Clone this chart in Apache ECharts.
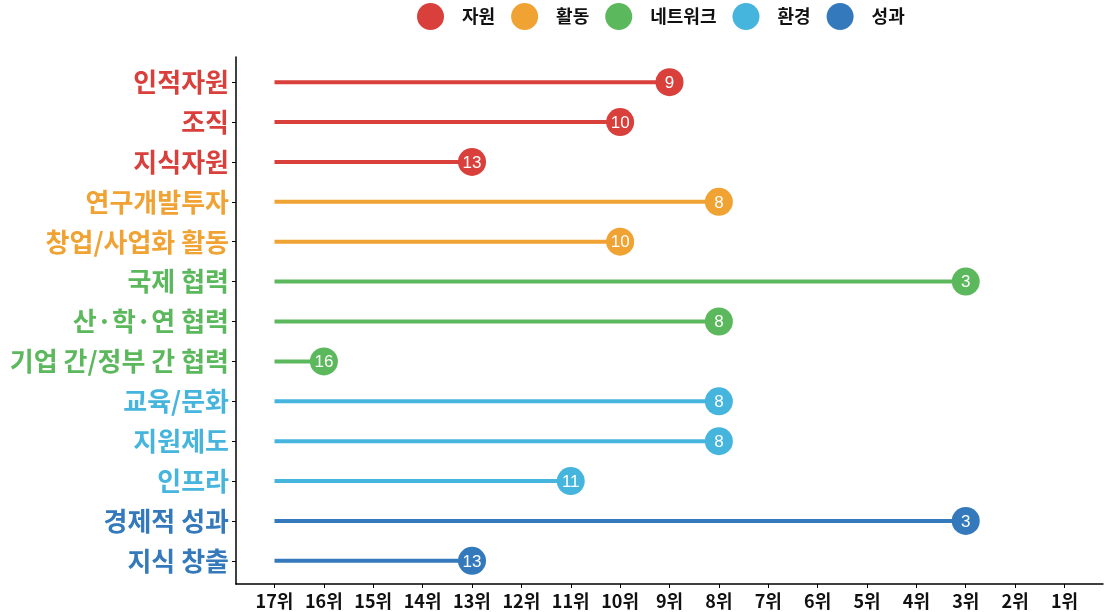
<!DOCTYPE html>
<html><head><meta charset="utf-8">
<script src="https://cdn.jsdelivr.net/npm/echarts@6/dist/echarts.min.js"></script>
<style>html,body{margin:0;padding:0;background:#fff}#c{width:1104px;height:612px}</style>
</head><body><div id="c"></div>
<script>
const categories = ['인적자원','조직','지식자원','연구개발투자','창업/사업화 활동','국제 협력','산·학·연 협력','기업 간/정부 간 협력','교육/문화','지원제도','인프라','경제적 성과','지식 창출'];
const groupOf = ['자원','자원','자원','활동','활동','네트워크','네트워크','네트워크','환경','환경','환경','성과','성과'];
const ranks = [9,10,13,8,10,3,8,16,8,8,11,3,13];
const groups = ['자원','활동','네트워크','환경','성과'];
const groupColors = ['#d93f3b','#f0a232','#5cb85c','#46b5dd','#3479bb'];
const rankTicks = [17,16,15,14,13,12,11,10,9,8,7,6,5,4,3,2,1];
const baseRank = 17;

const font = '"Noto Sans CJK KR", "Noto Sans", sans-serif';

function renderItem(params, api) {
  const v = api.value(0), y = api.value(1);
  const s = api.coord([baseRank, y]);
  const e = api.coord([v, y]);
  const color = api.visual('color');
  return {
    type: 'group',
    children: [
      {type: 'line', shape: {x1: s[0], y1: s[1], x2: e[0], y2: e[1]}, style: {stroke: color, lineWidth: 4}},
      {type: 'circle', shape: {cx: e[0], cy: e[1], r: 14}, style: {fill: color}},
      {type: 'text', x: e[0], y: e[1] + 1, style: {text: String(v), fill: '#fff', font: '17px "Liberation Sans", Arial, sans-serif', align: 'center', verticalAlign: 'middle'}}
    ]
  };
}

const series = groups.map((g, gi) => ({
  name: g,
  type: 'custom',
  renderItem: renderItem,
  itemStyle: {color: groupColors[gi]},
  encode: {x: 0, y: 1},
  data: ranks.map((r, i) => groupOf[i] === g ? [r, i] : null).filter(d => d)
}));

const chart = echarts.init(document.getElementById('c'));
chart.setOption({
  animation: false,
  color: groupColors,
  legend: {
    top: 3, left: 417, padding: 0,
    icon: 'circle', itemWidth: 27, itemHeight: 27, itemGap: 16,
    data: groups,
    textStyle: {fontFamily: font, fontWeight: 'bold', fontSize: 18, color: '#111', padding: [0, 0, 0, 13]}
  },
  grid: {left: 236, right: 1, top: 57, bottom: 28, containLabel: false},
  xAxis: {
    type: 'value', inverse: true, min: 0.22, max: 17.78,
    splitLine: {show: false},
    axisLine: {show: true, onZero: false, lineStyle: {color: '#000', width: 1.5}},
    axisTick: {show: true, length: 4, lineStyle: {color: '#000'}, customValues: rankTicks},
    axisLabel: {customValues: rankTicks, formatter: v => v + '위', fontFamily: font, fontWeight: 'bold', fontSize: 18, color: '#111', margin: 8}
  },
  yAxis: {
    type: 'value', inverse: true, min: -0.63, max: 12.58,
    splitLine: {show: false},
    axisLine: {show: true, onZero: false, lineStyle: {color: '#000', width: 1.5}},
    axisTick: {show: true, length: 4, lineStyle: {color: '#000'}, customValues: categories.map((c, i) => i)},
    axisLabel: {
      customValues: categories.map((c, i) => i),
      formatter: v => categories[Math.round(v)] || '',
      color: (v) => groupColors[groups.indexOf(groupOf[Math.round(Number(v))])],
      fontFamily: font, fontWeight: 'bold', fontSize: 26, margin: 7
    }
  },
  series: series
});
</script></body></html>
